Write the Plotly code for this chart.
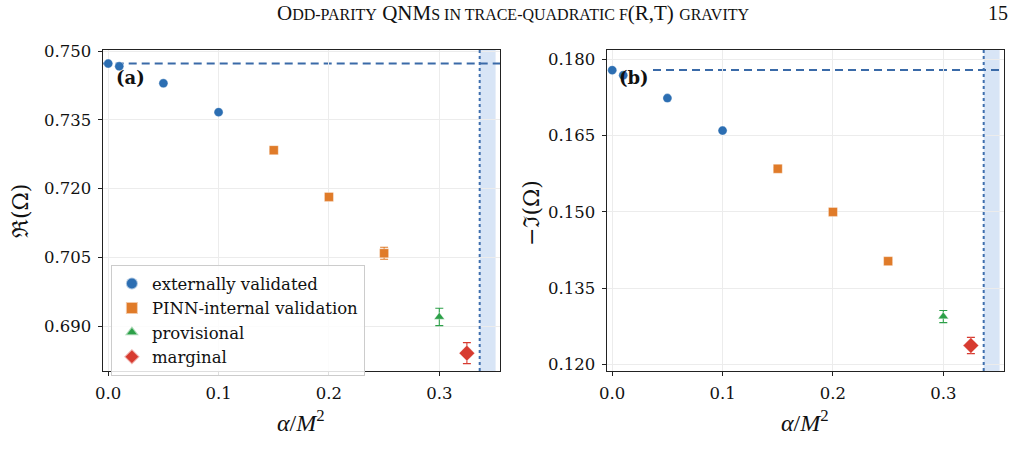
import plotly.graph_objects as go

# ---- data ----
alpha_ext = [0.0, 0.01, 0.05, 0.1]
re_ext = [0.7473, 0.7467, 0.7430, 0.7367]
im_ext = [0.1779, 0.1769, 0.1724, 0.1660]
re_ext_err = [0.0001, 0.0001, 0.0001, 0.0001]
im_ext_err = [0.0001, 0.0001, 0.0001, 0.0001]

alpha_pinn = [0.15, 0.2, 0.25]
re_pinn = [0.7284, 0.7182, 0.7059]
im_pinn = [0.1585, 0.1500, 0.1403]
re_pinn_err = [0.0002, 0.0003, 0.0013]
im_pinn_err = [0.0002, 0.0003, 0.0003]

alpha_prov = [0.3]
re_prov = [0.6920]
im_prov = [0.1294]
re_prov_err = [0.0019]
im_prov_err = [0.0012]

alpha_marg = [0.325]
re_marg = [0.6841]
im_marg = [0.1237]
re_marg_err = [0.0023]
im_marg_err = [0.0016]

schw_re = 0.74734
schw_im = 0.17792
alpha_max = 0.3366
alpha_shade_hi = 0.351

x_ticks = [0.0, 0.1, 0.2, 0.3]
x_ticktext = ["0.0", "0.1", "0.2", "0.3"]
y_ticks_re = [0.690, 0.705, 0.720, 0.735, 0.750]
y_ticks_im = [0.120, 0.135, 0.150, 0.165, 0.180]

C_BLUE = "#2c6eb2"
C_ORANGE = "#e07b29"
C_GREEN = "#2ca048"
C_RED = "#d73b30"

series = [
    ("externally validated", alpha_ext, re_ext, re_ext_err, im_ext, im_ext_err, C_BLUE, "circle", 9),
    ("PINN-internal validation", alpha_pinn, re_pinn, re_pinn_err, im_pinn, im_pinn_err, C_ORANGE, "square", 9),
    ("provisional", alpha_prov, re_prov, re_prov_err, im_prov, im_prov_err, C_GREEN, "triangle-up", 9),
    ("marginal", alpha_marg, re_marg, re_marg_err, im_marg, im_marg_err, C_RED, "diamond", 12),
]

fig = go.Figure()
for i, (name, ax, rv, re_e, iv, ie, col, sym, sz) in enumerate(series):
    for panel, (yv, ye) in enumerate([(rv, re_e), (iv, ie)]):
        fig.add_trace(go.Scatter(
            x=ax, y=yv, mode="markers", name=name,
            legendgroup=name, showlegend=(panel == 0),
            marker=dict(color=col, symbol=sym, size=sz, line=dict(width=0.6, color="rgba(255,255,255,0.6)")),
            error_y=dict(type="data", array=ye, visible=True, color=col, thickness=1.1, width=4),
            xaxis="x" if panel == 0 else "x2",
            yaxis="y" if panel == 0 else "y2",
        ))

W, H = 1022, 457
ydom = [1 - 371 / H, 1 - 49.5 / H]
TICKFONT = dict(family="DejaVu Serif", size=16.5, color="#111")

axis_common = dict(
    showline=True, linecolor="#222", linewidth=1.3, mirror=True,
    ticks="outside", ticklen=4, tickwidth=1, tickcolor="#222",
    showgrid=True, gridcolor="#ececec", gridwidth=1, zeroline=False,
    tickfont=TICKFONT, ticklabelstandoff=3, automargin=False,
)

fig.update_layout(
    width=W, height=H,
    margin=dict(l=0, r=0, t=0, b=0, autoexpand=False),
    paper_bgcolor="white", plot_bgcolor="white",
    xaxis=dict(domain=[102.7 / W, 500 / W], range=[-0.005, 0.355], tickvals=x_ticks, ticktext=x_ticktext, anchor="y", **axis_common),
    yaxis=dict(domain=ydom, range=[0.6802, 0.75037], tickvals=y_ticks_re, tickformat=".3f", anchor="x", **axis_common),
    xaxis2=dict(domain=[606.7 / W, 1004 / W], range=[-0.005, 0.355], tickvals=x_ticks, ticktext=x_ticktext, anchor="y2", **axis_common),
    yaxis2=dict(domain=ydom, range=[0.11868, 0.18197], tickvals=y_ticks_im, tickformat=".3f", anchor="x2", **axis_common),
    legend=dict(
        x=110.7 / W, y=1 - 265 / H, xanchor="left", yanchor="top",
        bgcolor="rgba(255,255,255,0.85)", bordercolor="#cccccc", borderwidth=1.2,
        font=dict(family="DejaVu Serif", size=16.5, color="#111"),
        tracegroupgap=0, itemsizing="constant",
    ),
    showlegend=True,
)

shapes = []
for k, (xr, yr, yval) in enumerate([("x", "y", schw_re), ("x2", "y2", schw_im)]):
    ydomref = "y domain" if yr == "y" else "y2 domain"
    shapes.append(dict(type="rect", xref=xr, yref=ydomref, x0=alpha_max, x1=alpha_shade_hi, y0=0, y1=1,
                       fillcolor="rgba(190,212,240,0.6)", line=dict(width=0), layer="below"))
    shapes.append(dict(type="line", xref=xr, yref=ydomref, x0=alpha_max, x1=alpha_max, y0=0, y1=1,
                       line=dict(color="#3f6fae", width=2, dash="dot"), layer="above"))
    if k == 0:
        shapes.append(dict(type="line", xref="paper", yref=yr, x0=102.7 / W, x1=500 / W, y0=yval, y1=yval,
                           line=dict(color="#3a6aa8", width=2, dash="8px,5px"), layer="below"))
    else:
        shapes.append(dict(type="line", xref="paper", yref=yr, x0=653 / W, x1=1004 / W, y0=yval, y1=yval,
                           line=dict(color="#3a6aa8", width=2, dash="8px,5px"), layer="below"))
fig.update_layout(shapes=shapes)

sc = "font-size:16px"
header = ("O<span style='%s'>DD-PARITY</span> QNM<span style='%s'>S IN TRACE-QUADRATIC F</span>(R,T) "
          "<span style='%s'>GRAVITY</span>") % (sc, sc, sc)

ann = [
    dict(text=header, x=513 / W, y=1 - 13 / H, xref="paper", yref="paper", showarrow=False,
         font=dict(family="Liberation Serif", size=21, color="#111"), xanchor="center", yanchor="middle"),
    dict(text="15", x=1010 / W, y=1 - 13 / H, xref="paper", yref="paper", showarrow=False,
         font=dict(family="Liberation Serif", size=20, color="#111"), xanchor="right", yanchor="middle"),
    dict(text="<b>(a)</b>", x=114 / W, y=1 - 78 / H, xref="paper", yref="paper", showarrow=False,
         font=dict(family="DejaVu Serif", size=18, color="#111"), xanchor="left", yanchor="middle"),
    dict(text="<b>(b)</b>", x=617 / W, y=1 - 77 / H, xref="paper", yref="paper", showarrow=False,
         font=dict(family="DejaVu Serif", size=18, color="#111"), xanchor="left", yanchor="middle"),
    dict(text="<i>α</i>/<i>M</i><sup>2</sup>", x=301 / W, y=1 - 421 / H, xref="paper", yref="paper", showarrow=False,
         font=dict(family="Liberation Serif", size=24, color="#111"), xanchor="center", yanchor="middle"),
    dict(text="<i>α</i>/<i>M</i><sup>2</sup>", x=805 / W, y=1 - 421 / H, xref="paper", yref="paper", showarrow=False,
         font=dict(family="Liberation Serif", size=24, color="#111"), xanchor="center", yanchor="middle"),
    dict(text="ℜ(Ω)", x=20 / W, y=1 - 211 / H, xref="paper", yref="paper", showarrow=False, textangle=-90,
         font=dict(family="DejaVu Serif", size=22, color="#111"), xanchor="center", yanchor="middle"),
    dict(text="−ℑ(Ω)", x=531 / W, y=1 - 213 / H, xref="paper", yref="paper", showarrow=False, textangle=-90,
         font=dict(family="DejaVu Serif", size=22, color="#111"), xanchor="center", yanchor="middle"),
]
fig.update_layout(annotations=ann)

fig.write_html("out.html")
